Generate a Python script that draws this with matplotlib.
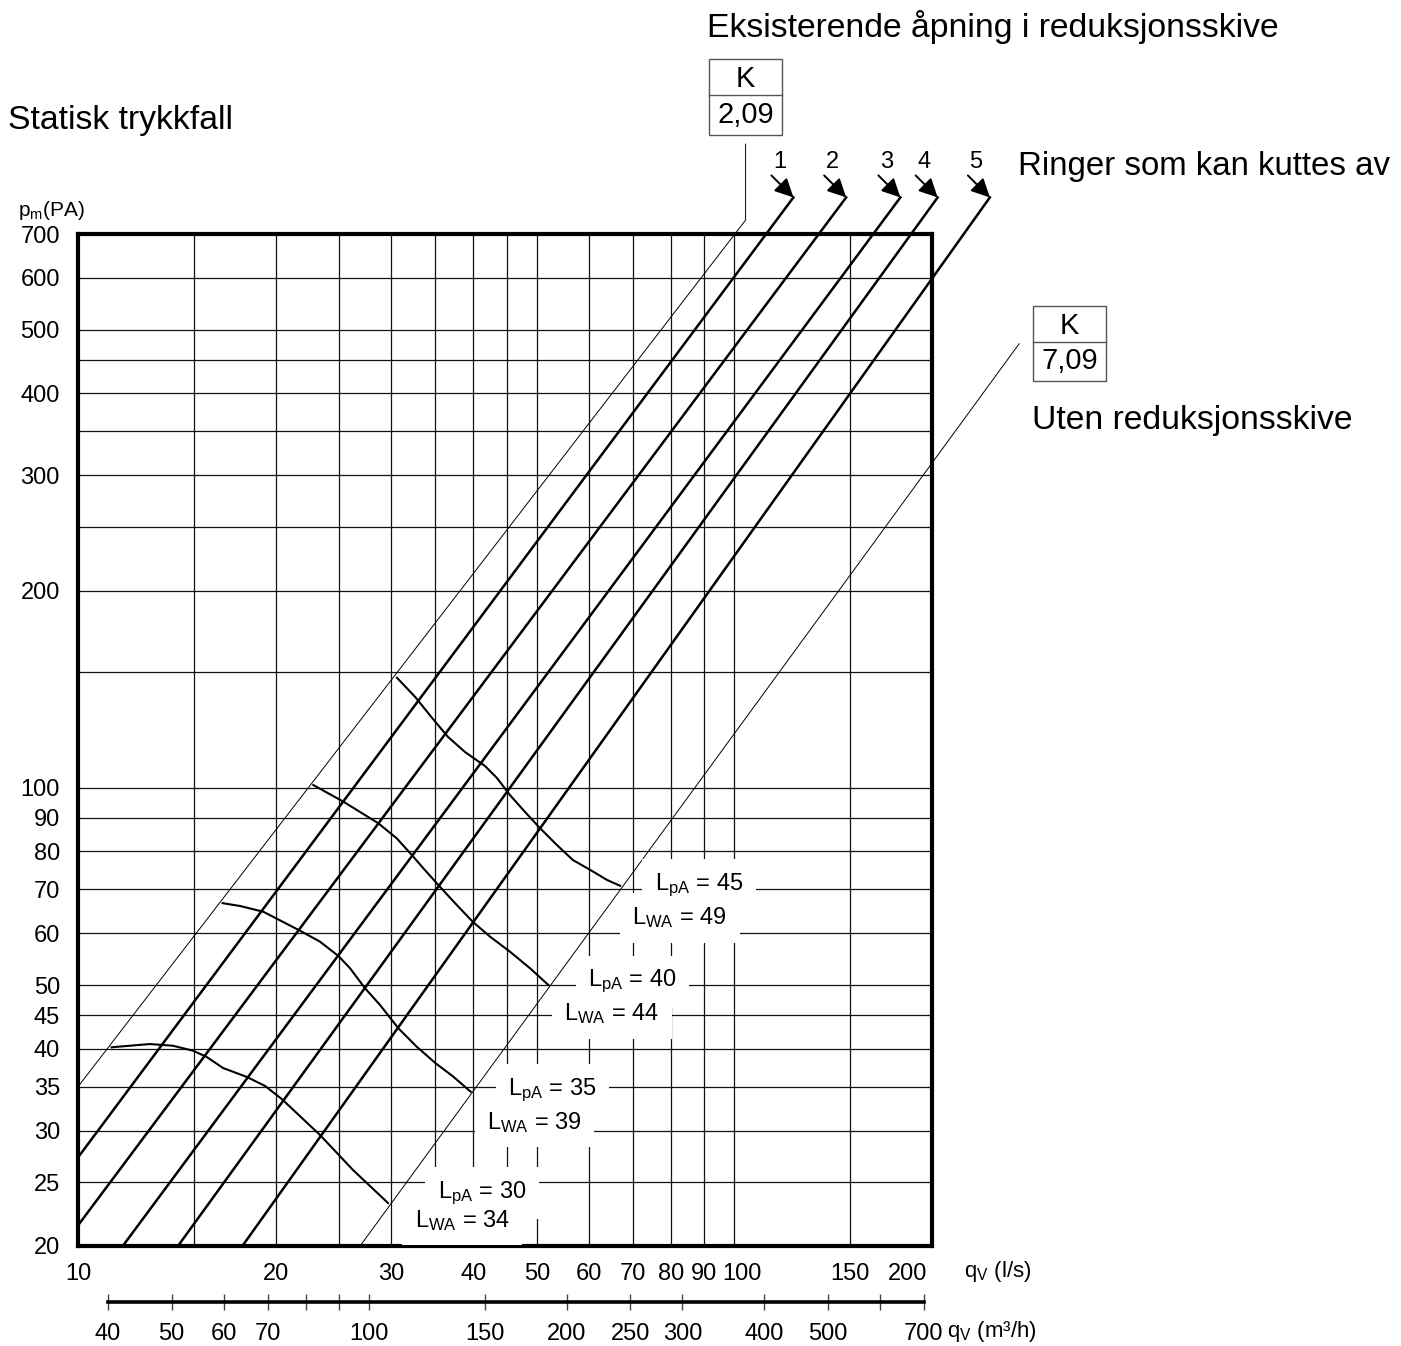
import matplotlib
matplotlib.use('Agg')
import matplotlib.pyplot as plt
from matplotlib.patches import Rectangle
from matplotlib.lines import Line2D
from matplotlib.ticker import NullLocator
from matplotlib.transforms import ScaledTranslation

plt.rcParams['font.family'] = ['Liberation Sans', 'DejaVu Sans']
plt.rcParams['mathtext.fontset'] = 'custom'
plt.rcParams['mathtext.rm'] = 'Liberation Sans'
plt.rcParams['mathtext.it'] = 'Liberation Sans:italic'

# axis ticks / grid
q_grid = [10, 15, 20, 25, 30, 35, 40, 45, 50, 60, 70, 80, 90, 100, 150, 200]
q_labels = ['10', '', '20', '', '30', '', '40', '', '50', '60', '70', '80', '90', '100', '150', '200']
p_grid = [20, 25, 30, 35, 40, 45, 50, 60, 70, 80, 90, 100, 150, 200, 250, 300, 350, 400, 450, 500, 600, 700]
p_labels = ['20', '25', '30', '35', '40', '45', '50', '60', '70', '80', '90', '100', '', '200', '',
            '300', '', '400', '', '500', '600', '700']
m3h_ticks = [40, 50, 60, 70, 80, 90, 100, 150, 200, 250, 300, 400, 500, 600, 700]
m3h_labels = ['40', '50', '60', '70', '', '', '100', '150', '200', '250', '300', '400', '500', '', '700']

# rings 1-5 : start point (lower left) and kink point above the frame
ring_names = ['1', '2', '3', '4', '5']
ring_q0 = [10, 10, 11.7, 14.2, 17.8]
ring_p0 = [27.3, 21.5, 20, 20, 20]
ring_qk = [123, 148, 179, 204, 245]
ring_pk = [796, 796, 796, 796, 796]

# existing opening K=2.09 and without disc K=7.09
k209_q = [10, 104, 104]
k209_p = [35, 735, 960]
k709_q = [26.9, 271.5]
k709_p = [20, 476]
k_values = ['2,09', '7,09']

# sound level curves
lpa30_q = [11.25, 12.87, 13.95, 14.97, 15.71, 16.63, 18.07, 19.27, 20.43, 23.37, 26.24, 29.67]
lpa30_p = [40.2, 40.66, 40.42, 39.72, 38.85, 37.38, 36.23, 35.1, 33.53, 29.54, 26.12, 23.26]
lpa35_q = [16.61, 17.65, 19.15, 21.79, 23.37, 24.93, 25.97, 27.37, 28.85, 30.76, 32.81, 35.07, 37.3, 39.65]
lpa35_p = [66.7, 66.04, 64.73, 60.55, 58.26, 55.4, 53.06, 49.46, 46.64, 42.98, 40.28, 38.0, 36.26, 34.39]
lpa40_q = [22.83, 25.37, 28.68, 30.59, 32.24, 33.58, 35.39, 37.76, 39.93, 42.44, 45.51, 48.83, 52.07]
lpa40_p = [101.0, 95.27, 88.3, 83.76, 79.03, 75.4, 71.1, 66.27, 62.49, 59.29, 56.24, 53.06, 50.03]
lpa45_q = [30.62, 32.62, 34.62, 36.62, 38.88, 41.69, 43.49, 45.51, 47.97, 50.57, 53.66, 56.76, 60.26, 63.9, 66.95]
lpa45_p = [147.2, 137.7, 127.9, 119.6, 113.4, 108.0, 103.5, 97.5, 91.9, 86.8, 81.8, 77.6, 75.0, 72.4, 70.9]

lpa_values = [30, 35, 40, 45]
lwa_values = [34, 39, 44, 49]
lpa_label_q = [35.3, 45.2, 59.9, 75.6]
lpa_label_p = [24.1, 34.6, 50.6, 71.1]
lwa_label_q = [32.6, 42.0, 55.1, 69.9]
lwa_label_p = [21.9, 30.9, 45.2, 63.3]

W, H = 1401, 1346


def fx(px):
    return px / W


def fy(py):
    return 1 - py / H


fig = plt.figure(figsize=(W / 100, H / 100), dpi=100)
ax = fig.add_axes([fx(78), fy(1246), (932 - 78) / W, (1246 - 234) / H])
ax.set_xscale('log')
ax.set_yscale('log')
ax.set_xlim(10, 200)
ax.set_ylim(20, 700)
ax.set_xticks(q_grid)
ax.set_xticklabels(q_labels)
ax.set_yticks(p_grid)
ax.set_yticklabels(p_labels)
ax.xaxis.set_minor_locator(NullLocator())
ax.yaxis.set_minor_locator(NullLocator())
ax.tick_params(length=0, labelsize=17)
ax.tick_params(axis='x', pad=12)
ax.tick_params(axis='y', pad=13)
ax.grid(True, color='#111111', lw=0.9)
for s in ax.spines.values():
    s.set_linewidth(3)

# the printed chart has "100" and "200" nudged sideways
for lab in ax.get_xticklabels():
    if lab.get_text() == '100':
        lab.set_transform(lab.get_transform() + ScaledTranslation(8 / 100, 0, fig.dpi_scale_trans))
    if lab.get_text() == '200':
        lab.set_transform(lab.get_transform() + ScaledTranslation(-24 / 100, 0, fig.dpi_scale_trans))

# lines
ax.plot(k209_q, k209_p, color='black', lw=0.7, clip_on=False)
ax.plot(k709_q, k709_p, color='black', lw=0.7, clip_on=False)
for i in range(len(ring_names)):
    ax.plot([ring_q0[i], ring_qk[i]], [ring_p0[i], ring_pk[i]], color='black', lw=1.8, clip_on=False)
    ax.annotate('', xy=(ring_qk[i], ring_pk[i]), xytext=(-22, 22), textcoords='offset pixels',
                arrowprops=dict(arrowstyle='-|>', color='black', lw=1.4, mutation_scale=28,
                                shrinkA=0, shrinkB=0),
                annotation_clip=False)
    ax.annotate(ring_names[i], xy=(ring_qk[i], ring_pk[i]), xytext=(-14, 35), textcoords='offset pixels',
                ha='center', va='center', fontsize=17, annotation_clip=False)

for cq, cp in [(lpa30_q, lpa30_p), (lpa35_q, lpa35_p), (lpa40_q, lpa40_p), (lpa45_q, lpa45_p)]:
    ax.plot(cq, cp, color='black', lw=1.5)

# white patches first, then the text on top of all of them
box = dict(fc='white', ec='none', pad=9)
for i in range(len(lpa_values)):
    for q, p, txt in [(lpa_label_q[i], lpa_label_p[i], r'L$_\mathregular{pA}$ = %d' % lpa_values[i]),
                      (lwa_label_q[i], lwa_label_p[i], r'L$_\mathregular{WA}$ = %d' % lwa_values[i])]:
        ax.text(q, p, txt, ha='left', va='center', fontsize=17, color='none', bbox=box, zorder=3)
        ax.text(q, p, txt, ha='left', va='center', fontsize=17, zorder=4)

# second axis in m3/h
ax2 = fig.add_axes([fx(78), fy(1302), (932 - 78) / W, 0.0005])
ax2.set_xscale('log')
ax2.set_xlim(10 * 3.6, 200 * 3.6)
ax2.patch.set_visible(False)
for k in ['top', 'left', 'right']:
    ax2.spines[k].set_visible(False)
ax2.spines['bottom'].set_bounds(m3h_ticks[0], m3h_ticks[-1])
ax2.spines['bottom'].set_linewidth(2.6)
ax2.set_yticks([])
ax2.set_xticks(m3h_ticks)
ax2.set_xticklabels(m3h_labels)
ax2.xaxis.set_minor_locator(NullLocator())
ax2.tick_params(axis='x', direction='inout', length=12, width=1, color='#444444', labelsize=17, pad=9)

# axis titles
fig.text(fx(18), fy(210), r'p$_\mathregular{m}$(PA)', fontsize=15, ha='left', va='center')
fig.text(fx(964), fy(1272), r'q$_\mathregular{V}$ (l/s)', fontsize=16, ha='left', va='center')
fig.text(fx(947), fy(1331), r'q$_\mathregular{V}$ (m³/h)', fontsize=16, ha='left', va='center')

fig.text(fx(8), fy(120), 'Statisk trykkfall', fontsize=24.3, ha='left', va='center')
fig.text(fx(707), fy(27), 'Eksisterende åpning i reduksjonsskive', fontsize=24.3, ha='left', va='center')
fig.text(fx(1018), fy(167), 'Ringer som kan kuttes av', fontsize=23.8, ha='left', va='center')
fig.text(fx(1032), fy(420), 'Uten reduksjonsskive', fontsize=24.3, ha='left', va='center')


def kbox(x0, y0, x1, y1, ymid, value):
    fig.add_artist(Rectangle((fx(x0), fy(y1)), (x1 - x0) / W, (y1 - y0) / H, transform=fig.transFigure,
                             fill=False, ec='#555555', lw=1))
    fig.add_artist(Line2D([fx(x0), fx(x1)], [fy(ymid), fy(ymid)], transform=fig.transFigure,
                          color='#555555', lw=1))
    fig.text(fx((x0 + x1) / 2), fy((y0 + ymid) / 2 + 2), 'K', fontsize=21, ha='center', va='center')
    fig.text(fx((x0 + x1) / 2), fy((ymid + y1) / 2), value, fontsize=21, ha='center', va='center')


kbox(709, 59, 782, 135, 95, k_values[0])
kbox(1033, 306, 1106, 381, 342, k_values[1])

fig.savefig('out.png', dpi=100)
